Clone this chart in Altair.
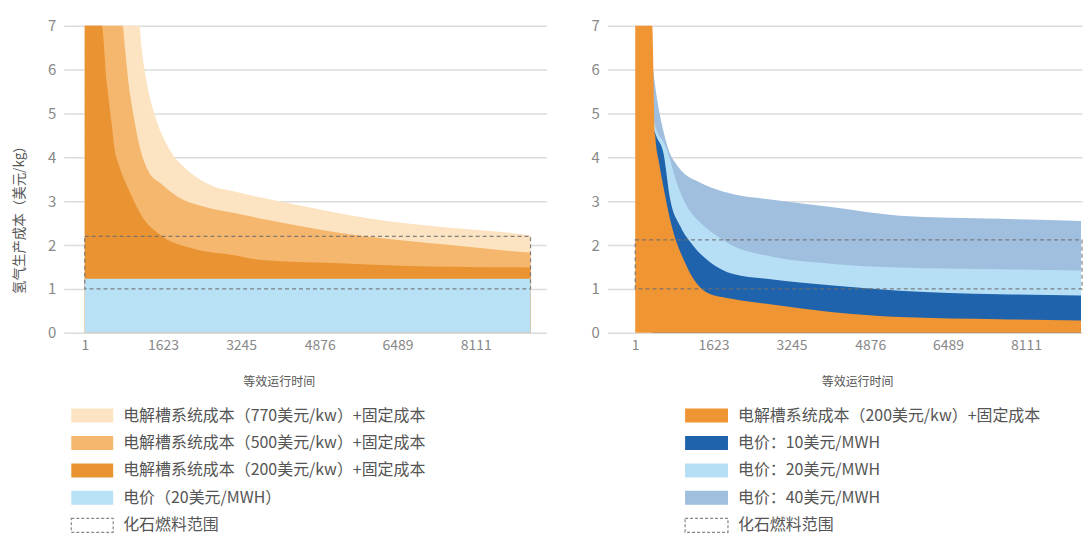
import altair as alt
import pandas as pd

FONT = "Noto Sans CJK SC"

# ---------------- data ----------------
ticks_x = [1, 1623, 3245, 4876, 6489, 8111]
x_title = "等效运行时间"

# left panel: electrolyser capex curves (USD/kg), y capped at 7
cap770_h = [1, 1139, 1180, 1284, 1449, 1739, 2153, 2629, 3105, 3808, 5174, 5877, 7243, 8898, 9250]
cap770_v = [7, 7, 6.5, 5.73, 4.98, 4.22, 3.69, 3.36, 3.22, 3.05, 2.75, 2.61, 2.43, 2.27, 2.22]
cap500_h = [1, 787, 835, 905, 1009, 1145, 1319, 1594, 1940, 2422, 3105, 3808, 5174, 6560, 7594, 8898, 9250]
cap500_v = [7, 7, 6.49, 5.73, 4.98, 4.22, 3.69, 3.39, 3.09, 2.89, 2.73, 2.57, 2.30, 2.11, 2.0, 1.86, 1.83]
cap200_h = [1, 353, 456, 560, 622, 704, 911, 1180, 1594, 2277, 3105, 3663, 5174, 6560, 9250]
cap200_v = [7, 7, 5.73, 4.75, 4.18, 3.84, 3.27, 2.67, 2.21, 1.91, 1.77, 1.66, 1.59, 1.53, 1.49]
elec20_h = [1, 9250]
elec20_v = [1.23, 1.23]
fossil_left_x = [1, 9250]
fossil_left_y = [1.0, 2.2]

# right panel
orange_h = [1, 353, 415, 500, 600, 700, 793, 1000, 1207, 1484, 2034, 2725, 4104, 5483, 7553, 9250]
orange_v = [7, 7, 4.5, 3.85, 3.25, 2.7, 2.29, 1.68, 1.23, 0.92, 0.77, 0.66, 0.47, 0.36, 0.31, 0.28]
p10_h = [359, 450, 586, 725, 932, 1207, 1553, 2034, 2725, 4104, 5483, 7553, 9250]
p10_v = [4.7, 4.45, 4.1, 3.05, 2.44, 1.98, 1.61, 1.34, 1.23, 1.08, 0.96, 0.88, 0.85]
p20_h = [359, 450, 586, 656, 862, 1069, 1345, 1690, 2034, 2725, 4104, 5483, 7553, 9250]
p20_v = [4.95, 4.6, 4.35, 4.18, 3.42, 2.89, 2.52, 2.21, 1.98, 1.76, 1.57, 1.49, 1.45, 1.42]
p40_h = [359, 450, 586, 700, 850, 1000, 1300, 1600, 2034, 2725, 4104, 5483, 7553, 9250]
p40_v = [6.1, 5.36, 4.6, 4.15, 3.85, 3.65, 3.45, 3.3, 3.16, 3.05, 2.86, 2.67, 2.6, 2.55]
fossil_right_x = [1, 9271]
fossil_right_y = [1.0, 2.12]

FOSSIL = "化石燃料范围"
legend_left_labels = [
    "电解槽系统成本（770美元/kw）+固定成本",
    "电解槽系统成本（500美元/kw）+固定成本",
    "电解槽系统成本（200美元/kw）+固定成本",
    "电价（20美元/MWH）",
    FOSSIL,
]
legend_right_labels = [
    "电解槽系统成本（200美元/kw）+固定成本",
    "电价：10美元/MWH",
    "电价：20美元/MWH",
    "电价：40美元/MWH",
    FOSSIL,
]

C_CREAM = "#FCE3C1"
C_MED = "#F5B76D"
C_DARK = "#EA9332"
C_LBLUE = "#B9E1F6"
C_ORANGE = "#EF9533"
C_NAVY = "#1F63AC"
C_SKY = "#B6DFF6"
C_GREYBLUE = "#A0BEDE"

legend_left_colors = [C_CREAM, C_MED, C_DARK, C_LBLUE, "#ffffff"]
legend_right_colors = [C_ORANGE, C_NAVY, C_SKY, C_GREYBLUE, "#ffffff"]

# ---------------- helpers ----------------
Y_SCALE = alt.Scale(domain=[0, 7], nice=False, zero=True)


def x_axis():
    return alt.Axis(values=ticks_x, format="d", title=None, grid=False, domain=False,
                    ticks=False, labelFontSize=14, labelColor="#888", labelPadding=6,
                    labelFlush=False)


def y_axis(with_title):
    kw = dict(values=list(range(8)), domain=False, ticks=False, grid=True,
              gridColor="#dcdcdc", gridWidth=1.5, labelFontSize=15, labelColor="#888",
              labelPadding=8)
    if with_title:
        kw.update(title="氢气生产成本（美元/kg）", titleFontSize=13.5, titleColor="#555",
                  titleFontWeight="normal", titleX=-44, titleY=191, titleAlign="center",
                  titleBaseline="middle")
    else:
        kw.update(title=None)
    return alt.Axis(**kw)


def area(h, v, color, xs, xa, ya):
    df = pd.DataFrame({"h": h, "v": v})
    return alt.Chart(df).mark_area(color=color, interpolate="monotone", opacity=1).encode(
        x=alt.X("h:Q", scale=xs, axis=xa),
        y=alt.Y("v:Q", scale=Y_SCALE, axis=ya),
    )


def fossil(xv, yv, xs, xa, ya):
    df = pd.DataFrame({"h": [xv[0]], "h2": [xv[1]], "v": [yv[0]], "v2": [yv[1]]})
    return alt.Chart(df).mark_rect(fillOpacity=0, stroke="#6f6f6f", strokeWidth=1.2,
                                   strokeDash=[4, 3], strokeOpacity=0.85).encode(
        x=alt.X("h:Q", scale=xs, axis=xa), x2="h2:Q",
        y=alt.Y("v:Q", scale=Y_SCALE, axis=ya), y2="v2:Q",
    )


def legend(labels, colors, sw0, sw1, tx, title_x):
    df = pd.DataFrame({"label": labels, "color": colors})
    yenc = alt.Y("label:N", sort=labels, axis=None,
                 scale=alt.Scale(domain=labels, range=[377.25, 514.75],
                                 paddingInner=0.49, paddingOuter=0.245))
    sw = alt.Chart(df).transform_filter(alt.datum.label != FOSSIL).mark_rect().encode(
        y=yenc, x=alt.value(sw0), x2=alt.value(sw1),
        color=alt.Color("color:N", scale=None, legend=None),
    )
    dash = alt.Chart(df).transform_filter(alt.datum.label == FOSSIL).mark_rect(
        fillOpacity=0, stroke="#888", strokeWidth=1.2, strokeDash=[3, 2]).encode(
        y=yenc, x=alt.value(sw0), x2=alt.value(sw1),
    )
    txt = alt.Chart(df).mark_text(align="left", baseline="middle", fontSize=16,
                                  color="#555").encode(
        y=yenc, x=alt.value(tx), text="label:N",
    )
    ttl = alt.Chart(pd.DataFrame({"t": [x_title]})).mark_text(
        align="center", baseline="middle", fontSize=12, color="#555").encode(
        x=alt.value(title_x), y=alt.value(357), text="t:N",
    )
    return alt.layer(sw, dash, txt, ttl)


# ---------------- left panel ----------------
xs_left = alt.Scale(domain=[-433.5, 9581], nice=False, zero=False)
xa_l = x_axis()
ya_l = y_axis(True)
left_plot = alt.layer(
    area(cap770_h, cap770_v, C_CREAM, xs_left, xa_l, ya_l),
    area(cap500_h, cap500_v, C_MED, xs_left, xa_l, ya_l),
    area(cap200_h, cap200_v, C_DARK, xs_left, xa_l, ya_l),
    area(elec20_h, elec20_v, C_LBLUE, xs_left, xa_l, ya_l),
    fossil(fossil_left_x, fossil_left_y, xs_left, xa_l, ya_l),
)
left = alt.layer(left_plot,
                 legend(legend_left_labels, legend_left_colors, 7.5, 49.5, 59.5, 216)) \
    .resolve_scale(y="independent", color="independent") \
    .properties(width=484, height=308)

# ---------------- right panel ----------------
xs_right = alt.Scale(domain=[-578, 9271], nice=False, zero=False)
xa_r = x_axis()
ya_r = y_axis(False)
right_plot = alt.layer(
    area(p40_h, p40_v, C_GREYBLUE, xs_right, xa_r, ya_r),
    area(p20_h, p20_v, C_SKY, xs_right, xa_r, ya_r),
    area(p10_h, p10_v, C_NAVY, xs_right, xa_r, ya_r),
    area(orange_h, orange_v, C_ORANGE, xs_right, xa_r, ya_r),
    fossil(fossil_right_x, fossil_right_y, xs_right, xa_r, ya_r),
)
right = alt.layer(right_plot,
                  legend(legend_right_labels, legend_right_colors, 78, 121, 131, 251)) \
    .resolve_scale(y="independent", color="independent") \
    .properties(width=476, height=308)

chart = alt.hconcat(left, right, spacing=61, bounds="flush").properties(
    padding={"left": 13, "top": 18, "right": 0, "bottom": 0},
    background="white",
).configure_view(stroke="transparent", strokeWidth=0, strokeOpacity=0) \
 .configure_axisX(grid=False, domain=False) \
 .configure_axisY(domain=False) \
 .configure(font=FONT, style={"cell": {"stroke": "transparent", "strokeWidth": 0}})

chart.save("out.html", embed_options={"renderer": "svg", "actions": False})
